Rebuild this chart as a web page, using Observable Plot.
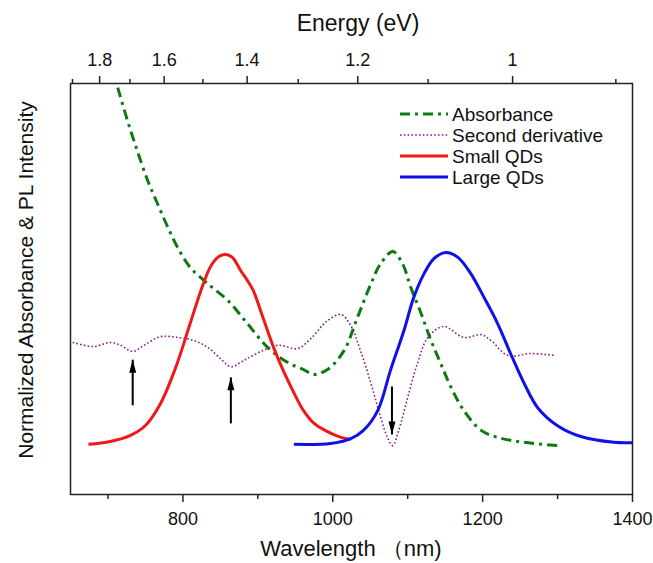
<!DOCTYPE html>
<html><head><meta charset="utf-8">
<script src="https://cdn.jsdelivr.net/npm/d3@7"></script>
<script src="https://cdn.jsdelivr.net/npm/@observablehq/plot@0.6"></script>
<style>body{margin:0;background:#fff;} #chart{width:653px;height:563px;}</style>
</head><body><div id="chart"></div>
<script>
// ---- data ----
const seriesNames = ["Absorbance", "Second derivative", "Small QDs", "Large QDs"];

const absWl = [713,726,739,753,766,780,793,810,828,841,860,886,913,940,961,975,993,1015,1033,1051,1064,1080,1093,1104,1118,1131,1144,1158,1175,1198,1220,1255,1300];
const absY  = [0.990,0.910,0.837,0.764,0.708,0.650,0.601,0.552,0.521,0.501,0.472,0.416,0.358,0.321,0.304,0.292,0.304,0.350,0.431,0.513,0.562,0.591,0.562,0.504,0.440,0.375,0.319,0.260,0.204,0.156,0.139,0.127,0.119];

const derWl = [653,681,703,717,733,748,770,793,814,833,850,864,881,904,927,953,971,993,1011,1024,1037,1051,1064,1073,1080,1088,1100,1113,1127,1148,1175,1198,1211,1234,1264,1298];
const derY  = [0.370,0.360,0.370,0.363,0.348,0.363,0.384,0.382,0.375,0.358,0.331,0.311,0.326,0.348,0.363,0.355,0.380,0.423,0.438,0.411,0.350,0.270,0.187,0.139,0.119,0.156,0.236,0.319,0.382,0.409,0.382,0.389,0.375,0.338,0.343,0.338];

const smallWl = [674,703,730,750,770,790,810,824,837,848,857,866,877,886,894,906,921,935,948,961,975,993,1011,1024];
const smallY  = [0.122,0.129,0.144,0.168,0.221,0.307,0.418,0.496,0.555,0.579,0.584,0.577,0.545,0.521,0.496,0.435,0.358,0.297,0.248,0.204,0.173,0.153,0.139,0.134];

const largeWl = [948,997,1024,1041,1060,1077,1095,1108,1122,1135,1151,1167,1184,1202,1220,1238,1255,1274,1301,1331,1375,1400];
const largeY  = [0.122,0.124,0.136,0.156,0.204,0.302,0.399,0.479,0.538,0.574,0.589,0.577,0.538,0.479,0.416,0.340,0.272,0.210,0.166,0.141,0.127,0.126];

// arrows marking the second-derivative minima
const arrowWl   = [733, 864, 1079];
const arrowTail = [0.217, 0.173, 0.263];
const arrowTip  = [0.328, 0.285, 0.146];

// axis ticks
const wlMajor = [800, 1000, 1200, 1400];
const wlMinor = [700, 900, 1100, 1300];
const eMajor = [1.8, 1.6, 1.4, 1.2, 1.0];
const eMinor = [1.9, 1.7, 1.5, 1.3, 1.1, 0.9];

const xTitle = "Wavelength \uFF08nm)";
const topTitle = "Energy (eV)";
const yTitle = "Normalized Absorbance & PL Intensity";

// ---- build ----
const zip = (xs, ys) => xs.map((x, i) => ({wl: x, v: ys[i]}));
const datasets = [zip(absWl, absY), zip(derWl, derY), zip(smallWl, smallY), zip(largeWl, largeY)];
const arrows = arrowWl.map((w, i) => ({wl: w, tail: arrowTail[i], tip: arrowTip[i], rot: arrowTip[i] > arrowTail[i] ? 0 : 180}));

const hc = 1240;
const styles = [
  {stroke: "#0c7a12", strokeWidth: 3, strokeDasharray: "10,5,3,5"},
  {stroke: "#8a1a8a", strokeWidth: 1.6, strokeDasharray: "1.6,2.2"},
  {stroke: "#f01818", strokeWidth: 3},
  {stroke: "#1010e8", strokeWidth: 3}
];

const headSymbol = {
  draw(ctx) { ctx.moveTo(0, 0); ctx.lineTo(-3.5, 13); ctx.lineTo(3.5, 13); ctx.closePath(); }
};

const font = "'Liberation Sans', Arial, sans-serif";
const chart = Plot.plot({
  width: 653, height: 563,
  marginLeft: 70, marginRight: 21, marginTop: 83, marginBottom: 69,
  x: {domain: [650, 1400], axis: null},
  y: {domain: [0, 1], axis: null},
  style: {fontFamily: font, background: "white", color: "#111"},
  marks: [
    ...datasets.map((d, i) => Plot.line(d, {x: "wl", y: "v", curve: "catmull-rom", strokeLinecap: "butt", ...styles[i]})),
    Plot.link(arrows, {x1: "wl", x2: "wl", y1: "tail", y2: "tip", stroke: "black", strokeWidth: 2}),
    Plot.dot(arrows, {x: "wl", y: "tip", symbol: headSymbol, r: 4, fill: "black", stroke: "none", rotate: "rot"}),
    Plot.frame({stroke: "#222", strokeWidth: 1.5}),
    Plot.axisX({anchor: "bottom", ticks: wlMajor, tickSize: 8, tickPadding: 10, fontSize: 18, tickFormat: d => String(d), label: null, stroke: "#222", strokeWidth: 1.5}),
    Plot.axisX({anchor: "bottom", ticks: wlMinor, tickSize: 5, tickFormat: () => "", label: null, stroke: "#222", strokeWidth: 1.5}),
    Plot.axisX({anchor: "top", ticks: eMajor.map(e => hc / e), tickFormat: d => String(+(hc / d).toFixed(1)), tickSize: 8, tickPadding: 10, fontSize: 18, label: null, stroke: "#222", strokeWidth: 1.5}),
    Plot.axisX({anchor: "top", ticks: eMinor.map(e => hc / e), tickFormat: () => "", tickSize: 5, label: null, stroke: "#222", strokeWidth: 1.5})
  ]
});
document.getElementById("chart").appendChild(chart);

// titles and legend
const svg = d3.select(chart);
svg.append("text").attr("x", 358).attr("y", 23).attr("dy", "0.35em").attr("text-anchor", "middle")
  .style("font-family", font).style("font-size", "23px").attr("fill", "#111").text(topTitle);
svg.append("text").attr("x", 351).attr("y", 548).attr("dy", "0.35em").attr("text-anchor", "middle")
  .style("font-family", font).style("font-size", "22px").attr("fill", "#111").text(xTitle);
svg.append("text").attr("transform", "translate(26,280) rotate(-90)").attr("dy", "0.35em").attr("text-anchor", "middle")
  .style("font-family", font).style("font-size", "21px").attr("fill", "#111").text(yTitle);

const leg = svg.append("g");
seriesNames.forEach((name, i) => {
  const yy = 114 + i * 21;
  const s = styles[i];
  leg.append("line").attr("x1", 400).attr("x2", 448).attr("y1", yy).attr("y2", yy)
    .attr("stroke", s.stroke).attr("stroke-width", s.strokeWidth).attr("stroke-dasharray", s.strokeDasharray || null);
  leg.append("text").attr("x", 452).attr("y", yy).attr("dy", "0.35em").attr("text-anchor", "start")
    .style("font-family", font).style("font-size", "19px").attr("fill", "#111").text(name);
});
</script>
</body></html>
